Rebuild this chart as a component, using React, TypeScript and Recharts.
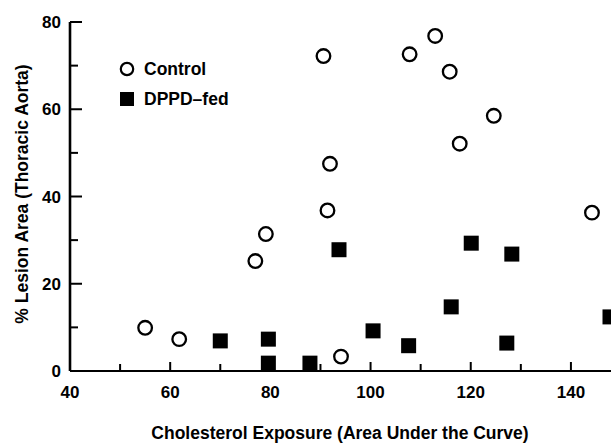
import React from 'react';
import { ScatterChart, Scatter, XAxis, YAxis, Legend } from 'recharts';

const controlX = [55.0, 61.8, 77.0, 79.1, 91.4, 91.9, 94.1, 90.6, 107.8, 112.9, 115.8, 117.8, 124.6, 144.2];
const controlY = [9.9, 7.3, 25.2, 31.4, 36.8, 47.5, 3.3, 72.2, 72.6, 76.8, 68.6, 52.1, 58.5, 36.3];
const dppdX = [70.0, 79.6, 79.6, 87.9, 93.7, 100.5, 107.6, 116.1, 120.1, 127.2, 128.2, 147.8];
const dppdY = [6.9, 7.3, 1.8, 1.8, 27.8, 9.2, 5.8, 14.7, 29.3, 6.4, 26.8, 12.4];
const xTicks = [40, 50, 60, 70, 80, 90, 100, 110, 120, 130, 140];
const yTicks = [0, 10, 20, 30, 40, 50, 60, 70, 80];
const xTitle = 'Cholesterol Exposure (Area Under the Curve)';
const yTitle = '% Lesion Area (Thoracic Aorta)';
const seriesNames = ['Control', 'DPPD\u2013fed'];

const controlData = controlX.map((x, i) => ({ x, y: controlY[i] }));
const dppdData = dppdX.map((x, i) => ({ x, y: dppdY[i] }));

const FONT = '"Liberation Sans", Arial, Helvetica, sans-serif';

const XTick = (props: any) => {
  const { x, y, payload } = props;
  const v = payload.value;
  const major = v % 20 === 0;
  return (
    <g>
      <line x1={x} x2={x} y1={y} y2={y - (major ? 9 : 7)} stroke="#000" strokeWidth={2} />
      {major && (
        <text x={x} y={y + 27} textAnchor="middle" fontFamily={FONT} fontWeight="bold" fontSize={17} fill="#000">
          {v}
        </text>
      )}
    </g>
  );
};

const YTick = (props: any) => {
  const { x, y, payload } = props;
  const v = payload.value;
  const major = v % 20 === 0;
  return (
    <g>
      <line x1={x} x2={x + (major ? 12 : 8)} y1={y} y2={y} stroke="#000" strokeWidth={2} />
      {major && (
        <text x={x - 9} y={y + 6} textAnchor="end" fontFamily={FONT} fontWeight="bold" fontSize={17} fill="#000">
          {v}
        </text>
      )}
    </g>
  );
};

const CircleShape = (props: any) => (
  <circle cx={props.cx} cy={props.cy} r={6.8} fill="#fff" stroke="#000" strokeWidth={2.3} />
);
const SquareShape = (props: any) => (
  <rect x={props.cx - 7.5} y={props.cy - 7.5} width={15} height={15} fill="#000" />
);

const LegendContent = (props: any) => {
  const payload = props.payload || [];
  return (
    <div style={{ fontFamily: FONT, fontWeight: 'bold', fontSize: 17.5, color: '#000' }}>
      {payload.map((p: any, i: number) => (
        <div key={i} style={{ display: 'flex', alignItems: 'center', height: 30 }}>
          <svg width={16} height={16} style={{ marginRight: 9 }}>
            {p.value === seriesNames[0] ? (
              <circle cx={8} cy={8} r={6.2} fill="#fff" stroke="#000" strokeWidth={2.2} />
            ) : (
              <rect x={1} y={1} width={14} height={14} fill="#000" />
            )}
          </svg>
          <span>{p.value}</span>
        </div>
      ))}
    </div>
  );
};

export default function App() {
  return (
    <div style={{ position: 'absolute', left: 0, top: 0, width: 611, height: 443, background: '#fff' }}>
      <ScatterChart width={611} height={443} margin={{ top: 22, right: 0, bottom: 0, left: 0 }}>
        <XAxis
          type="number"
          dataKey="x"
          domain={[40, 148]}
          allowDataOverflow
          ticks={xTicks}
          interval={0}
          tickSize={0}
          tickMargin={0}
          tickLine={false}
          tick={<XTick />}
          height={72}
          axisLine={{ stroke: '#000', strokeWidth: 2.2 }}
          label={{
            content: () => (
              <text x={340} y={438.5} textAnchor="middle" fontFamily={FONT} fontWeight="bold" fontSize={17.5} fill="#000">
                {xTitle}
              </text>
            ),
          }}
        />
        <YAxis
          type="number"
          dataKey="y"
          domain={[0, 80]}
          ticks={yTicks}
          interval={0}
          tickSize={0}
          tickMargin={0}
          tickLine={false}
          tick={<YTick />}
          width={70}
          axisLine={{ stroke: '#000', strokeWidth: 2.6 }}
          label={{
            content: () => (
              <text
                x={22}
                y={194}
                textAnchor="middle"
                dominantBaseline="central"
                transform="rotate(-90 22 194)"
                fontFamily={FONT}
                fontWeight="bold"
                fontSize={17.5}
                fill="#000"
              >
                {yTitle}
              </text>
            ),
          }}
        />
        <Legend
          layout="vertical"
          align="center"
          verticalAlign="middle"
          content={<LegendContent />}
          wrapperStyle={{ left: 119, top: 54, width: 200, height: 60 }}
        />
        <Scatter name={seriesNames[0]} data={controlData} shape={CircleShape} isAnimationActive={false} legendType="circle" />
        <Scatter name={seriesNames[1]} data={dppdData} shape={SquareShape} isAnimationActive={false} legendType="square" />
      </ScatterChart>
    </div>
  );
}
